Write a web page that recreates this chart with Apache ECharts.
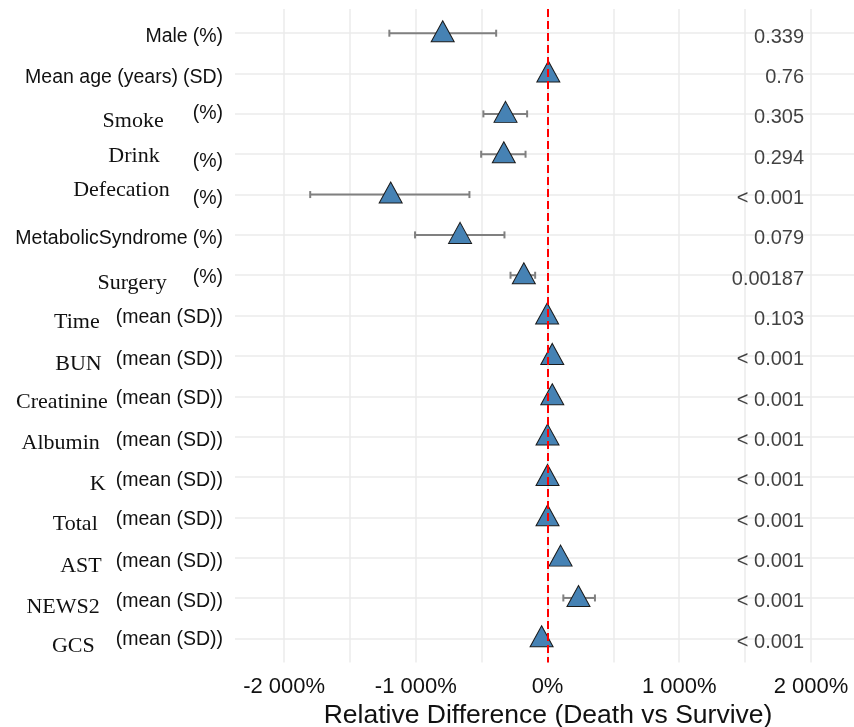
<!DOCTYPE html>
<html><head><meta charset="utf-8">
<script src="https://cdn.jsdelivr.net/npm/echarts@6/dist/echarts.min.js"></script>
<style>html,body{margin:0;padding:0;background:#fff}#c{width:854px;height:727px}</style>
</head><body><div id="c"></div>
<script>
// ---- data ----
const names = ['Male','Mean age (years)','Smoke','Drink','Defecation','MetabolicSyndrome','Surgery','Time','BUN','Creatinine','Albumin','K','Total','AST','NEWS2','GCS'];
const units = ['(%)','(SD)','(%)','(%)','(%)','(%)','(%)','(mean (SD))','(mean (SD))','(mean (SD))','(mean (SD))','(mean (SD))','(mean (SD))','(mean (SD))','(mean (SD))','(mean (SD))'];
const estimate = [-796, 6, -319, -332, -1191, -664, -180, -3, 36, 36, 0, 0, 0, 99, 235, -45];
const lower    = [-1201, -10, -487, -504, -1802, -1006, -281, -15, 25, 25, -10, -10, -10, 85, 120, -55];
const upper    = [-390, 20, -155, -167, -593, -327, -94, 10, 48, 48, 10, 10, 10, 115, 360, -35];
const pValues  = ['0.339','0.76','0.305','0.294','< 0.001','0.079','0.00187','0.103','< 0.001','< 0.001','< 0.001','< 0.001','< 0.001','< 0.001','< 0.001','< 0.001'];
const xTickLabels = [-2000, -1000, 0, 1000, 2000];
const xGridBreaks = [-2000, -1500, -1000, -500, 0, 500, 1000, 1500, 2000];

// ---- label styling (per row look of the original figure) ----
const labelTweaks = [
  {font:'sans',  nameDy:2, unitDy:2, gap:5},
  {font:'sans',  nameDy:3, unitDy:3, gap:5},
  {font:'serif', nameDy:6, unitDy:-1, gap:29},
  {font:'serif', nameDy:1, unitDy:6, gap:33},
  {font:'serif', nameDy:-5, unitDy:3, gap:23},
  {font:'sans',  nameDy:3, unitDy:3, gap:5},
  {font:'serif', nameDy:7, unitDy:1, gap:26},
  {font:'serif', nameDy:6, unitDy:1, gap:16},
  {font:'serif', nameDy:7, unitDy:3, gap:14},
  {font:'serif', nameDy:5, unitDy:1, gap:8},
  {font:'serif', nameDy:6, unitDy:3, gap:16},
  {font:'serif', nameDy:6, unitDy:3, gap:10},
  {font:'serif', nameDy:6, unitDy:1, gap:18},
  {font:'serif', nameDy:8, unitDy:3, gap:14},
  {font:'serif', nameDy:8, unitDy:3, gap:16},
  {font:'serif', nameDy:7, unitDy:0, gap:21}
];
const BASE_DY = 1;
const SANS = 'Liberation Sans, Arial, sans-serif';
const SERIF = 'Liberation Serif, Times New Roman, serif';
const TXT = '#111111';

const rows = names.map((_, i) => i + 1);
function pad(dy, right) { dy += BASE_DY; return dy >= 0 ? [2 * dy, right, 0, 0] : [0, right, -2 * dy, 0]; }
const rich = {};
names.forEach((n, i) => {
  const t = labelTweaks[i];
  rich['n' + i] = {fontFamily: t.font === 'serif' ? SERIF : SANS, fontSize: t.font === 'serif' ? 22 : 19.5,
    color: TXT, verticalAlign: 'middle', padding: pad(t.nameDy, t.gap)};
  rich['u' + i] = {fontFamily: SANS, fontSize: 19.5, color: TXT, verticalAlign: 'middle', padding: pad(t.unitDy, 0)};
});

function fmtPct(v) {
  const s = Math.abs(v).toString().replace(/\B(?=(\d{3})+(?!\d))/g, ' ');
  return (v < 0 ? '-' : '') + s + '%';
}

const P_COLUMN_X = 1948;

const chart = echarts.init(document.getElementById('c'), null, {renderer: 'canvas'});
chart.setOption({
  animation: false,
  backgroundColor: '#fff',
  grid: {left: 235, right: 0, top: 9, bottom: 64.5, containLabel: false, outerBoundsMode: 'none'},
  xAxis: {
    type: 'value', min: -2373, max: 2327,
    axisLine: {show: false},
    axisTick: {show: false, customValues: xGridBreaks},
    axisLabel: {customValues: xTickLabels, formatter: fmtPct, fontSize: 22, color: TXT, fontFamily: SANS, margin: 13},
    splitLine: {show: true, lineStyle: {color: '#EBEBEB', width: 1.5}},
    name: 'Relative Difference (Death vs Survive)', nameLocation: 'middle', nameGap: 40,
    nameTextStyle: {fontSize: 26.5, color: TXT, fontFamily: SANS, padding: [0, 0, 0, 7]}
  },
  yAxis: {
    type: 'value', min: 0.4, max: 16.6, inverse: true,
    axisLine: {show: false},
    axisTick: {show: false, customValues: rows},
    axisLabel: {customValues: rows, margin: 12, rich: rich,
      formatter: v => { const i = Math.round(v) - 1; return '{n' + i + '|' + names[i] + '}{u' + i + '|' + units[i] + '}'; }},
    splitLine: {show: true, lineStyle: {color: '#EBEBEB', width: 1.5}}
  },
  series: [
    {
      type: 'scatter', data: [], z: 1, silent: true,
      markLine: {silent: true, symbol: 'none', label: {show: false},
        lineStyle: {color: '#FF0000', type: [8, 4], width: 2},
        data: [{xAxis: 0}]}
    },
    {
      type: 'custom', z: 2, silent: true,
      data: names.map((_, i) => [lower[i], upper[i], i + 1]),
      encode: {x: [0, 1], y: 2},
      renderItem: (params, api) => {
        const lo = api.coord([api.value(0), api.value(2)]);
        const hi = api.coord([api.value(1), api.value(2)]);
        const h = 3.5, st = {stroke: '#808080', lineWidth: 2};
        return {type: 'group', children: [
          {type: 'line', shape: {x1: lo[0], y1: lo[1], x2: hi[0], y2: hi[1]}, style: st},
          {type: 'line', shape: {x1: lo[0], y1: lo[1] - h, x2: lo[0], y2: lo[1] + h}, style: st},
          {type: 'line', shape: {x1: hi[0], y1: hi[1] - h, x2: hi[0], y2: hi[1] + h}, style: st}
        ]};
      }
    },
    {
      type: 'scatter', z: 3, silent: true,
      data: names.map((_, i) => [estimate[i], i + 1]),
      symbol: 'triangle', symbolSize: [23, 21], symbolOffset: [0, -2],
      itemStyle: {color: '#4682B4', borderColor: '#1a1a1a', borderWidth: 1, opacity: 1}
    },
    {
      type: 'scatter', z: 3, silent: true,
      data: names.map((_, i) => [P_COLUMN_X, i + 1]),
      symbolSize: 0,
      label: {show: true, position: [0, 0], align: 'right', verticalAlign: 'middle', offset: [0, 4],
        formatter: p => pValues[p.dataIndex], fontSize: 20, color: TXT, fontFamily: SANS}
    }
  ]
});
</script></body></html>
